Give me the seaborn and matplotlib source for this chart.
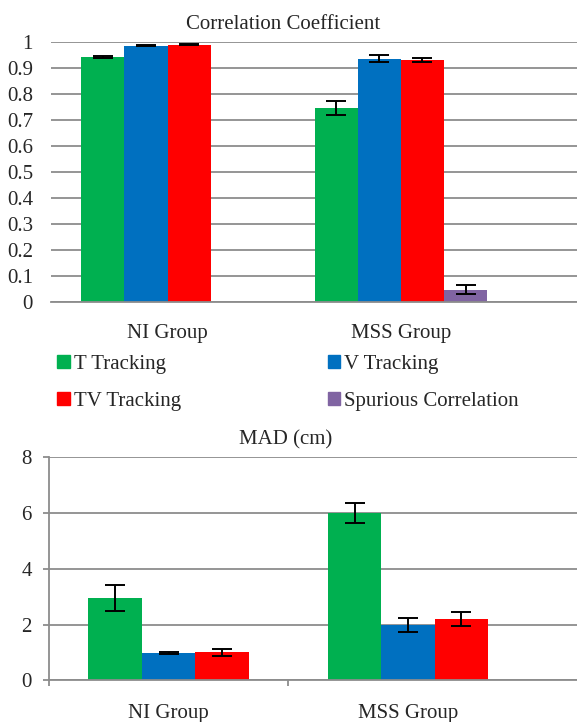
import numpy as np
import pandas as pd
import seaborn as sns
import matplotlib.pyplot as plt
from matplotlib.patches import Patch
from matplotlib.ticker import FixedLocator

sns.set_theme(style='white')
plt.rcParams['font.family'] = ['Liberation Serif', 'DejaVu Serif']

# Data
groups = ['NI Group', 'MSS Group']
methods = ['T Tracking', 'V Tracking', 'TV Tracking', 'Spurious Correlation']
colors = ['#00B050', '#0070C0', '#FF0000', '#8064A2']

corr_ni = [0.941, 0.986, 0.990, np.nan]
corr_mss = [0.747, 0.936, 0.931, 0.047]
corr_err_ni = [0.004, 0.003, 0.003, np.nan]
corr_err_mss = [0.028, 0.013, 0.008, 0.017]

mad_ni = [2.96, 0.97, 1.00]
mad_mss = [6.00, 1.99, 2.20]
mad_err_ni = [0.47, 0.03, 0.11]
mad_err_mss = [0.35, 0.25, 0.25]

corr_ticks = np.round(np.arange(0, 1.01, 0.1), 1)
corr_ticklabels = ['0', '0.1', '0.2', '0.3', '0.4', '0.5', '0.6', '0.7', '0.8', '0.9', '1']
mad_ticks = [0, 2, 4, 6, 8]

df_corr = pd.DataFrame({'Group': np.repeat(groups, 4),
                        'Method': methods * 2,
                        'Value': corr_ni + corr_mss,
                        'Err': corr_err_ni + corr_err_mss}).dropna()
df_mad = pd.DataFrame({'Group': np.repeat(groups, 3),
                       'Method': methods[:3] * 2,
                       'Value': mad_ni + mad_mss,
                       'Err': mad_err_ni + mad_err_mss})

grid_c = '#8C8C8C'
fs = 15


def add_errbars(ax, df, hue_order):
    for container, method in zip(ax.containers, hue_order):
        sub = df[df['Method'] == method]
        for bar in container:
            xc = bar.get_x() + bar.get_width() / 2
            g = groups[int(round(xc))]
            row = sub[sub['Group'] == g]
            if len(row) == 0:
                continue
            ax.errorbar(xc, bar.get_height(), yerr=row['Err'].values[0],
                        fmt='none', ecolor='black', elinewidth=1.4,
                        capsize=7, capthick=1.4, zorder=5)


fig = plt.figure(figsize=(5.77, 7.22), dpi=100)

# Correlation Coefficient
ax1 = fig.add_axes([0.0884, 0.5817, 0.9116, 0.3601])
sns.barplot(data=df_corr, x='Group', y='Value', hue='Method',
            order=groups, hue_order=methods, palette=colors,
            width=0.74, errorbar=None, saturation=1, legend=False,
            linewidth=0, edgecolor='none', ax=ax1)
add_errbars(ax1, df_corr, methods)
ax1.set_xlim(-0.5, 1.755)
ax1.set_ylim(0, 1)
ax1.set_yticks(corr_ticks)
ax1.set_yticklabels(corr_ticklabels, fontsize=fs)
ax1.yaxis.grid(True, color=grid_c, linewidth=1.3)
ax1.set_axisbelow(True)
ax1.tick_params(axis='y', length=0, pad=13)
ax1.tick_params(axis='x', length=0, pad=16, labelsize=fs)
ax1.set_xlabel('')
ax1.set_ylabel('')
for s in ['top', 'right', 'left']:
    ax1.spines[s].set_visible(False)
ax1.spines['bottom'].set_color(grid_c)
ax1.spines['bottom'].set_linewidth(1.3)
ax1.text(0.441, 1.03, 'Correlation Coefficient', transform=ax1.transAxes,
         ha='center', va='bottom', fontsize=fs)

handles = [Patch(color=colors[i], label=methods[i]) for i in [0, 2, 1, 3]]
fig.legend(handles=handles, ncol=2, loc='upper left',
           bbox_to_anchor=(0.099, 0.508), frameon=False, fontsize=fs,
           handlelength=0.6, handleheight=0.6, handletextpad=0.2,
           columnspacing=7.05, labelspacing=0.85, borderaxespad=0, borderpad=0)

# MAD
ax2 = fig.add_axes([0.0849, 0.0577, 0.9151, 0.3089])
sns.barplot(data=df_mad, x='Group', y='Value', hue='Method',
            order=groups, hue_order=methods[:3], palette=colors[:3],
            width=0.67, errorbar=None, saturation=1, legend=False,
            linewidth=0, edgecolor='none', ax=ax2)
add_errbars(ax2, df_mad, methods[:3])
ax2.set_xlim(-0.5, 1.706)
ax2.set_ylim(0, 8)
ax2.set_yticks(mad_ticks)
ax2.tick_params(axis='y', labelsize=fs, length=4.5, width=1.3,
                color=grid_c, direction='out', pad=8, left=True)
ax2.xaxis.set_minor_locator(FixedLocator([-0.5, 0.5]))
ax2.tick_params(axis='x', which='major', length=0, pad=17, labelsize=fs)
ax2.tick_params(axis='x', which='minor', length=4.5, width=1.3,
                color=grid_c, direction='out', bottom=True)
ax2.yaxis.grid(True, color=grid_c, linewidth=1.3)
ax2.set_axisbelow(True)
ax2.set_xlabel('')
ax2.set_ylabel('')
for s in ['top', 'right']:
    ax2.spines[s].set_visible(False)
for s in ['bottom', 'left']:
    ax2.spines[s].set_color(grid_c)
    ax2.spines[s].set_linewidth(1.3)
ax2.text(0.449, 1.035, 'MAD (cm)', transform=ax2.transAxes,
         ha='center', va='bottom', fontsize=fs)

plt.savefig('out.png', dpi=100)
